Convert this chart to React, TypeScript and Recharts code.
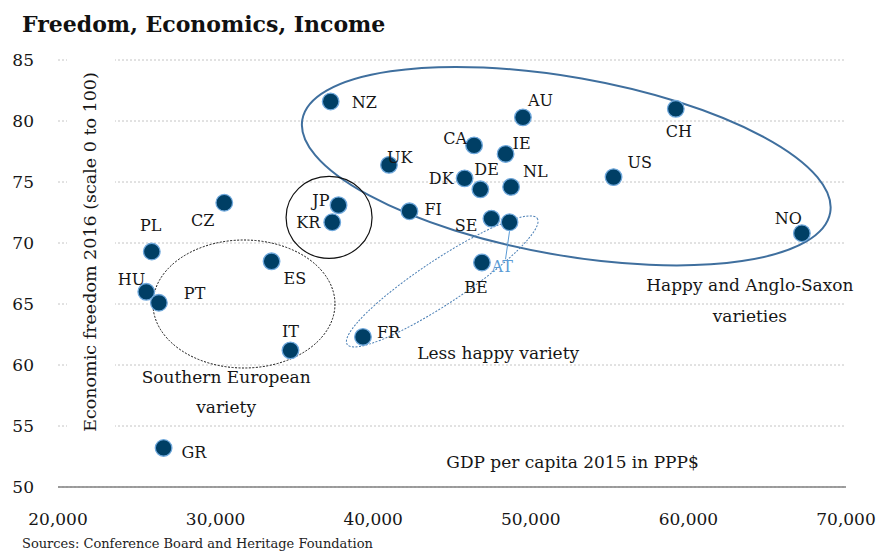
import React from "react";
import {
  CartesianGrid,
  ReferenceDot,
  Scatter,
  ScatterChart,
  XAxis,
  YAxis,
} from "recharts";

// countries, GDP per capita 2015 (PPP$), economic freedom 2016
const CODES = ["NZ", "AU", "CH", "CA", "IE", "UK", "DK", "DE", "NL", "US", "JP", "KR", "FI", "SE", "AT", "NO", "BE", "CZ", "PL", "HU", "PT", "ES", "IT", "FR", "GR"];
const GDP = [37300, 49500, 59200, 46400, 48400, 41000, 45800, 46800, 48750, 55250, 37800, 37400, 42300, 47500, 48650, 67200, 46900, 30550, 25950, 25600, 26400, 33550, 34750, 39350, 26700];
const FREEDOM = [81.6, 80.3, 81.0, 78.0, 77.3, 76.4, 75.3, 74.4, 74.6, 75.4, 73.1, 71.7, 72.6, 72.0, 71.7, 70.8, 68.4, 73.3, 69.3, 66.0, 65.1, 68.5, 61.2, 62.3, 53.2];

const X_TICKS = [20000, 30000, 40000, 50000, 60000, 70000];
const Y_TICKS = [50, 55, 60, 65, 70, 75, 80, 85];

const FONT = "'DejaVu Serif', serif";
const NAVY = "#003f65";
const EDGE = "#6fa8dc";
const LIGHT_BLUE = "#5b9bd5";
const INK = "#161616";

const points = CODES.map((code, i) => ({ code, x: GDP[i], y: FREEDOM[i] }));

// label placement around each dot: dx, dy, anchor
const LABEL_POS: Record<string, [number, number, "start" | "middle" | "end"]> = {
  NZ: [21, 1, "start"],
  AU: [5, -17, "start"],
  CH: [3, 22, "middle"],
  CA: [-7, -7, "end"],
  IE: [7, -11, "start"],
  UK: [-2, -8, "start"],
  DK: [-11, 0, "end"],
  DE: [-6, -20, "start"],
  NL: [12, -16, "start"],
  US: [14, -15, "start"],
  JP: [-9, -5, "end"],
  KR: [-12, 0, "end"],
  FI: [15, -2, "start"],
  SE: [-14, 7, "end"],
  AT: [-18, 44, "start"],
  NO: [0, -15, "end"],
  BE: [-6, 25, "middle"],
  CZ: [-10, 17, "end"],
  PL: [-1, -26, "middle"],
  HU: [-1, -13, "end"],
  PT: [25, -10, "start"],
  ES: [12, 17, "start"],
  IT: [0, -19, "middle"],
  FR: [14, -5, "start"],
  GR: [18, 4, "start"],
};

function CountryDot(props: any) {
  const { cx, cy, payload } = props;
  const [dx, dy, anchor] = LABEL_POS[payload.code] ?? [12, 0, "start"];
  const isAT = payload.code === "AT";
  return (
    <g>
      {isAT && <line x1={cx} y1={cy + 9} x2={cx - 4} y2={cy + 37} stroke={LIGHT_BLUE} strokeWidth={1} />}
      <circle cx={cx} cy={cy} r={8.3} fill={NAVY} stroke={EDGE} strokeWidth={1.3} />
      <text
        x={cx + dx}
        y={cy + dy}
        dy="0.36em"
        textAnchor={anchor}
        fontFamily={FONT}
        fontSize={16}
        fill={isAT ? LIGHT_BLUE : INK}
      >
        {payload.code}
      </text>
    </g>
  );
}

// group outlines, centred in data units
const ellipse =
  (rx: number, ry: number, angle: number, stroke: string, width: number, dash?: string) =>
  (p: any) =>
    (
      <ellipse
        cx={p.cx}
        cy={p.cy}
        rx={rx}
        ry={ry}
        transform={`rotate(${angle} ${p.cx} ${p.cy})`}
        fill="none"
        stroke={stroke}
        strokeWidth={width}
        strokeDasharray={dash}
      />
    );

const note =
  (lines: string[], anchor: "start" | "middle" = "middle", gap = 30) =>
  (p: any) =>
    (
      <text x={p.cx} y={p.cy} textAnchor={anchor} fontFamily={FONT} fontSize={17} fill={INK}>
        {lines.map((l, i) => (
          <tspan key={i} x={p.cx} y={p.cy + i * gap} dy="0.36em">
            {l}
          </tspan>
        ))}
      </text>
    );

function YTitle(props: any) {
  const vb = props.viewBox ?? { x: 0, y: 60, width: 58, height: 427 };
  const cx = vb.x + vb.width + 32;
  const cy = vb.y + 192;
  return (
    <g>
      <rect x={vb.x + vb.width + 9} y={vb.y - 5} width={48} height={vb.height - 8} fill="#fff" />
      <text
        x={cx}
        y={cy}
        transform={`rotate(-90 ${cx} ${cy})`}
        textAnchor="middle"
        dy="0.36em"
        fontFamily={FONT}
        fontSize={17.5}
        fill={INK}
      >
        Economic freedom 2016 (scale 0 to 100)
      </text>
    </g>
  );
}

const fmt = (v: number) => v.toLocaleString("en-US");

export default function App() {
  return (
    <div style={{ position: "absolute", left: 0, top: 0, width: 882, height: 552, background: "#fff", overflow: "hidden" }}>
      <div
        style={{
          position: "absolute",
          left: 22,
          top: 13,
          fontFamily: FONT,
          fontWeight: 700,
          fontSize: 22,
          lineHeight: 1,
          color: "#111",
          whiteSpace: "nowrap",
        }}
      >
        Freedom, Economics, Income
      </div>
      <ScatterChart width={882} height={552} margin={{ top: 60, right: 36, bottom: 35, left: 0 }}>
        <CartesianGrid vertical={false} stroke="#c4c4c4" strokeDasharray="2 2" />
        <XAxis
          type="number"
          dataKey="x"
          domain={[20000, 70000]}
          ticks={X_TICKS}
          tickFormatter={fmt}
          height={30}
          axisLine={{ stroke: "#808080", strokeWidth: 1.5 }}
          tickLine={false}
          tickSize={0}
          tickMargin={26}
          tick={{ fontFamily: FONT, fontSize: 17, fill: INK }}
        />
        <YAxis
          type="number"
          dataKey="y"
          domain={[50, 85]}
          ticks={Y_TICKS}
          width={58}
          axisLine={false}
          tickLine={false}
          tickSize={0}
          tickMargin={24}
          tick={{ fontFamily: FONT, fontSize: 17, fill: INK }}
          label={<YTitle />}
        />
        <ReferenceDot x={52250} y={76.3} ifOverflow="visible" shape={ellipse(268, 89, 10, "#3f6f9e", 2)} />
        <ReferenceDot x={44380} y={66.85} ifOverflow="visible" shape={ellipse(114, 22, -33.5, "#4a7fb5", 1, "2 1.5")} />
        <ReferenceDot x={37200} y={72.1} ifOverflow="visible" shape={ellipse(43, 41, 0, "#111", 1.2)} />
        <ReferenceDot x={31800} y={65.0} ifOverflow="visible" shape={ellipse(91, 64, 0, "#111", 1, "2 1.5")} />
        <ReferenceDot x={63900} y={66.55} ifOverflow="visible" shape={note(["Happy and Anglo-Saxon", "varieties"], "middle", 31)} />
        <ReferenceDot x={47930} y={60.97} ifOverflow="visible" shape={note(["Less happy variety"])} />
        <ReferenceDot x={30670} y={59.0} ifOverflow="visible" shape={note(["Southern European", "variety"])} />
        <ReferenceDot x={44640} y={52.03} ifOverflow="visible" shape={note(["GDP per capita 2015 in PPP$"], "start")} />
        <Scatter data={points} shape={<CountryDot />} isAnimationActive={false} />
      </ScatterChart>
      <div
        style={{
          position: "absolute",
          left: 22,
          top: 537,
          fontFamily: FONT,
          fontSize: 13,
          lineHeight: 1,
          color: "#222",
          whiteSpace: "nowrap",
        }}
      >
        Sources: Conference Board and Heritage Foundation
      </div>
    </div>
  );
}
